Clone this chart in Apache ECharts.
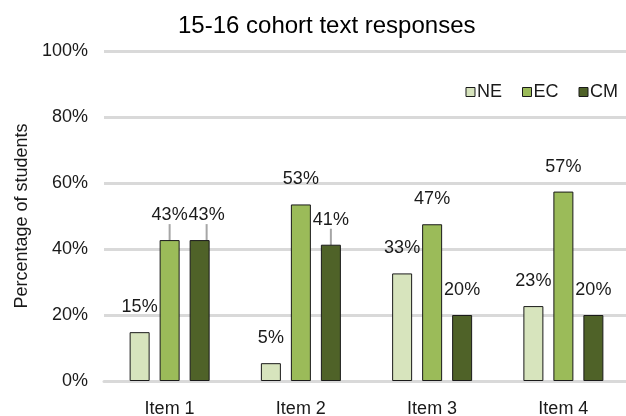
<!DOCTYPE html>
<html>
<head>
<meta charset="utf-8">
<script src="https://cdn.jsdelivr.net/npm/echarts@6/dist/echarts.min.js"></script>
<style>html,body{margin:0;padding:0;background:#fff;}#c{width:626px;height:416px;}</style>
</head>
<body>
<div id="c"></div>
<script>
const categories = ['Item 1', 'Item 2', 'Item 3', 'Item 4'];
const neValues = [14.8, 5.4, 32.6, 22.7];
const ecValues = [42.7, 53.5, 47.5, 57.4];
const cmValues = [42.7, 41.3, 20.0, 20.0];
const neLabels = ['15%', '5%', '33%', '23%'];
const ecLabels = ['43%', '53%', '47%', '57%'];
const cmLabels = ['43%', '41%', '20%', '20%'];
const ecLeader = [true, false, false, false];
const cmLeader = [true, true, false, false];
const cmLabelShift = [7, 0, 0, 0];

const FONT = 'Liberation Sans, Arial, sans-serif';
const chart = echarts.init(document.getElementById('c'), null, {renderer: 'canvas'});

function series(name, color, values, labels, leaders, shifts) {
  return {
    name: name,
    type: 'bar',
    barWidth: 20,
    barGap: '50%',
    itemStyle: {color: color, borderColor: '#1a1a1a', borderWidth: 1},
    data: values.map((v, i) => ({
      value: v,
      name: labels[i],
      labelLine: {show: leaders ? leaders[i] : false, lineStyle: {color: '#A6A6A6', width: 2}}
    })),
    label: {
      show: true,
      position: 'top',
      distance: 0,
      fontSize: 18,
      fontFamily: FONT,
      color: '#1a1a1a',
      formatter: p => labels[p.dataIndex]
    },
    labelLine: {show: false, lineStyle: {color: '#A6A6A6', width: 2}},
    labelLayout: p => ({dy: -16, dx: shifts ? shifts[p.dataIndex] : 0})
  };
}

chart.setOption({
  animation: false,
  textStyle: {fontFamily: FONT},
  title: {
    text: '15-16 cohort text responses',
    left: 173,
    top: 9,
    textStyle: {fontSize: 24, fontWeight: 'normal', color: '#000', fontFamily: FONT}
  },
  legend: {
    right: 3,
    top: 78,
    itemWidth: 9,
    itemHeight: 9,
    itemGap: 20,
    icon: 'rect',
    textStyle: {fontSize: 18, color: '#1a1a1a', fontFamily: FONT, padding: [0, 0, 0, -3]},
    itemStyle: {borderColor: '#1a1a1a', borderWidth: 1},
    data: ['NE', 'EC', 'CM']
  },
  grid: {left: 104, right: -3, top: 51, bottom: 35, containLabel: false, outerBoundsMode: 'none'},
  xAxis: {
    type: 'category',
    data: categories,
    axisLine: {show: true, lineStyle: {color: '#D9D9D9', width: 3}},
    axisTick: {show: false},
    axisLabel: {fontSize: 18, color: '#1a1a1a', margin: 19, fontFamily: FONT}
  },
  yAxis: {
    type: 'value',
    min: 0,
    max: 100,
    interval: 20,
    name: 'Percentage of students',
    nameLocation: 'middle',
    nameGap: 72,
    nameTextStyle: {fontSize: 18, color: '#1a1a1a', fontFamily: FONT},
    axisLine: {show: false},
    axisTick: {show: false},
    axisLabel: {fontSize: 18, color: '#1a1a1a', margin: 16, formatter: '{value}%', fontFamily: FONT},
    splitLine: {show: true, lineStyle: {color: '#D9D9D9', width: 3}}
  },
  series: [
    series('NE', '#D7E4BD', neValues, neLabels, null, null),
    series('EC', '#9BBB59', ecValues, ecLabels, ecLeader, null),
    series('CM', '#4F6228', cmValues, cmLabels, cmLeader, cmLabelShift)
  ]
});
</script>
</body>
</html>
